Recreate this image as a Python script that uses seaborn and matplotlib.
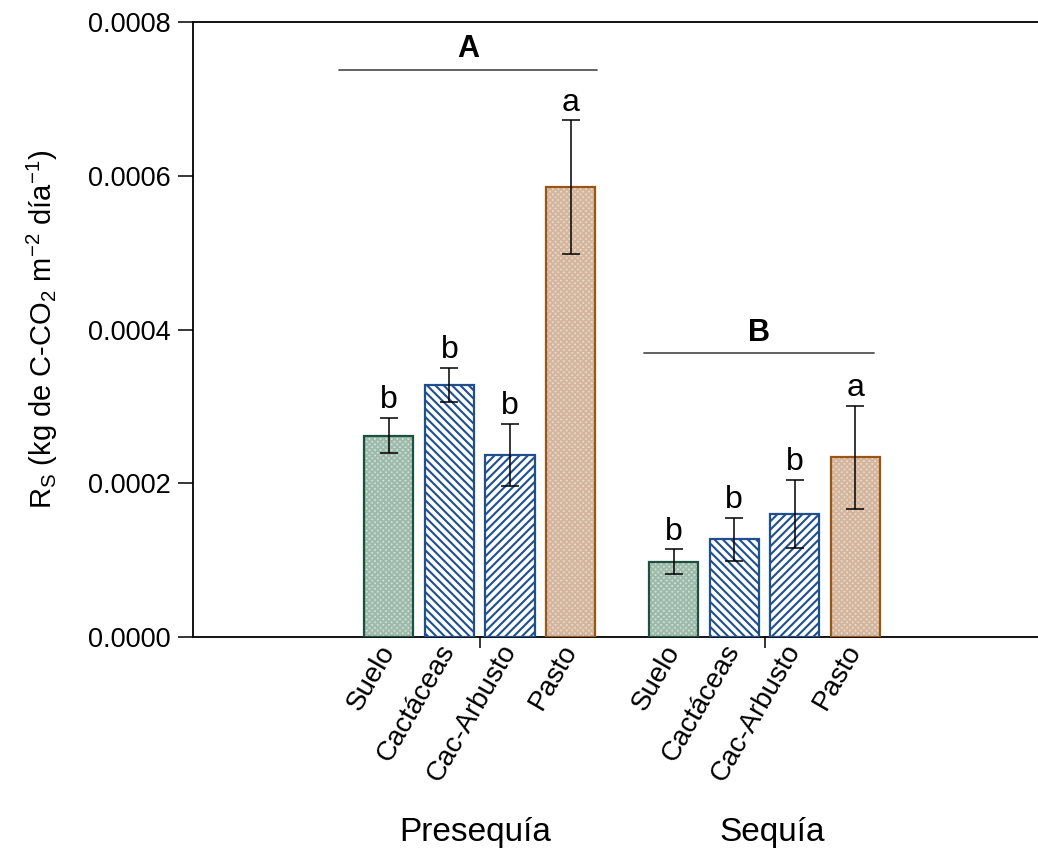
import numpy as np
import pandas as pd
import matplotlib
matplotlib.use("Agg")
import matplotlib.pyplot as plt
import seaborn as sns
from matplotlib.patches import Rectangle
from matplotlib.ticker import FormatStrFormatter

# ---------------- data ----------------
groups = ["Presequía", "Sequía"]
categories = ["Suelo", "Cactáceas", "Cac-Arbusto", "Pasto"]
pre_means = [0.000262, 0.000328, 0.000237, 0.000585]
pre_err = [0.000023, 0.000022, 0.000040, 0.000087]
seq_means = [0.000098, 0.000127, 0.000160, 0.000234]
seq_err = [0.000016, 0.000028, 0.000044, 0.000067]
pre_letters = ["b", "b", "b", "a"]
seq_letters = ["b", "b", "b", "a"]
group_letters = ["A", "B"]
group_line_y = [0.000738, 0.000369]
yticks = [0.0, 0.0002, 0.0004, 0.0006, 0.0008]

# ---------------- style ----------------
sns.set_style("white")
plt.rcParams["font.family"] = ["Liberation Sans", "DejaVu Sans"]
plt.rcParams["mathtext.fontset"] = "custom"
plt.rcParams["mathtext.rm"] = "Liberation Sans"
plt.rcParams["mathtext.it"] = "Liberation Sans:italic"
plt.rcParams["hatch.linewidth"] = 1.5
for k in ["text.color", "axes.labelcolor", "xtick.color", "ytick.color"]:
    plt.rcParams[k] = "black"

face = {"Suelo": "#d2e1d9", "Cactáceas": "white", "Cac-Arbusto": "white", "Pasto": "#ecdccd"}
hatch_col = {"Suelo": "#9dbaab", "Cactáceas": "#1f4f8f", "Cac-Arbusto": "#1f4f8f", "Pasto": "#d3b69d"}
hatches = {"Suelo": "xxxxxx", "Cactáceas": "\\\\\\\\", "Cac-Arbusto": "////", "Pasto": "xxxxxx"}
edge = {"Suelo": "#1d5040", "Cactáceas": "#1f4f8f", "Cac-Arbusto": "#1f4f8f", "Pasto": "#9a5512"}

group_gap = 0.7
bar_width = 0.81

# ---------------- frame ----------------
rows = []
for gi, (g, means, errs, lets) in enumerate(zip(groups, [pre_means, seq_means],
                                                 [pre_err, seq_err],
                                                 [pre_letters, seq_letters])):
    for ci, c in enumerate(categories):
        rows.append(dict(group=g, cat=c, pos=gi * (len(categories) + group_gap) + ci,
                         mean=means[ci], err=errs[ci], letter=lets[ci]))
df = pd.DataFrame(rows)

fig = plt.figure(figsize=(10.38, 8.5), dpi=100)
ax = fig.add_axes([0.186, 0.2506, 0.8145, 0.7235])

sns.barplot(data=df, x="pos", y="mean", hue="cat", native_scale=True, dodge=False,
            width=bar_width, palette=face, legend=False, ax=ax, errorbar=None,
            linewidth=0, saturation=1)

positions = df["pos"].to_numpy()
for p in list(ax.patches):
    cx = p.get_x() + p.get_width() / 2
    idx = int(np.argmin(np.abs(positions - cx)))
    c = df["cat"].iloc[idx]
    p.set_facecolor(face[c])
    p.set_hatch(hatches[c])
    p.set_edgecolor(hatch_col[c])
    p.set_linewidth(0)
    ax.add_patch(Rectangle(p.get_xy(), p.get_width(), p.get_height(), fill=False,
                           edgecolor=edge[c], linewidth=1.6, zorder=3))

ax.errorbar(df["pos"], df["mean"], yerr=df["err"], fmt="none", ecolor="black",
            elinewidth=1.1, capsize=6.5, capthick=1.1, zorder=4)

for _, r in df.iterrows():
    ax.annotate(r["letter"], (r["pos"], r["mean"] + r["err"]), xytext=(0, 2),
                textcoords="offset points", ha="center", va="bottom", fontsize=23)

# group lines and letters
for gi, g in enumerate(groups):
    gpos = df.loc[df["group"] == g, "pos"].to_numpy()
    if gi == 0:
        x0, x1 = gpos[0] - 0.82, gpos[-1] + 0.43
    else:
        x0, x1 = gpos[0] - 0.49, gpos[-1] + 0.30
    ax.plot([x0, x1], [group_line_y[gi]] * 2, color="#555555", lw=1.3, zorder=3)
    ax.annotate(group_letters[gi], ((x0 + x1) / 2, group_line_y[gi]), xytext=(0, 4),
                textcoords="offset points", ha="center", va="bottom",
                fontsize=22, fontweight="bold")

# axes
ax.set_ylim(0, 0.0008)
ax.set_yticks(yticks)
ax.yaxis.set_major_formatter(FormatStrFormatter("%.4f"))
first = positions[0]
ax.set_xlim(first - 3.23, first + 10.72)

group_centers = [df.loc[df["group"] == g, "pos"].mean() for g in groups]
ax.set_xticks(group_centers)
ax.set_xticklabels([])
ax.set_xticks(positions, minor=True)
ax.set_xticklabels(df["cat"], minor=True, rotation=60, ha="right", va="center",
                   rotation_mode="anchor", fontsize=20)
ax.tick_params(axis="x", which="minor", length=0, pad=7)
ax.tick_params(axis="x", which="major", direction="out", length=8, width=1.1,
               bottom=True)
ax.tick_params(axis="y", direction="out", length=11, width=1.1, left=True,
               labelsize=19.5, pad=5)

label_shift = [-0.08, 0.13]
for gx, g, sh in zip(group_centers, groups, label_shift):
    ax.text(gx + sh, -0.318, g, transform=ax.get_xaxis_transform(), ha="center",
            va="center", fontsize=24)

for s in ["left", "bottom", "top"]:
    ax.spines[s].set_visible(True)
    ax.spines[s].set_color("black")
    ax.spines[s].set_linewidth(1.3)
ax.spines["right"].set_visible(False)

ax.set_xlabel("")
ax.set_ylabel(r"R$_\mathrm{S}$ (kg de C-CO$_2$ m$^{-2}$ día$^{-1}$)", fontsize=21,
              labelpad=20)

fig.savefig("out.png", dpi=100)
